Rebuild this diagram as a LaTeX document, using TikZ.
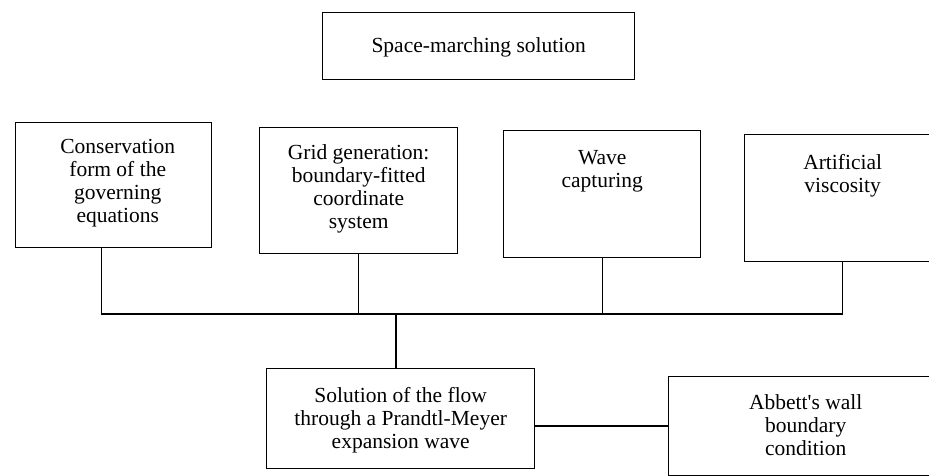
\documentclass[tikz,border=0pt]{standalone}
\usepackage{fontspec}
\setmainfont{Liberation Serif}
\begin{document}
\begin{tikzpicture}[x=1pt,y=-1pt,
  box/.style={draw, line width=1.4pt, inner sep=0pt, anchor=north west},
  txt/.style={align=center, inner sep=0pt, font=\fontsize{21.5}{23}\selectfont},
  wire/.style={line width=1.4pt}]
\clip (0,0) rectangle (929,476);
\fill[white] (0,0) rectangle (929,476);
% top box
\node[box, minimum width=312, minimum height=67] (top) at (322,12) {};
\node[txt] (topt) at ([yshift=-1]top.center) {Space-marching solution};
% four boxes
\node[box, minimum width=196, minimum height=125] (b1) at (15,122) {};
\node[txt] (b1t) at ([xshift=4,yshift=2]b1.center) {Conservation\\form of the\\governing\\equations};
\node[box, minimum width=198, minimum height=126] (b2) at (259,127) {};
\node[txt] (b2t) at ([yshift=2]b2.center) {Grid generation:\\boundary-fitted\\coordinate\\system};
\node[box, minimum width=197, minimum height=127] (b3) at (503,130) {};
\node[txt, anchor=north] (b3t) at ([yshift=-20]b3.north) {Wave\\capturing};
\node[box, minimum width=196, minimum height=127] (b4) at (744,134) {};
\node[txt, anchor=north] (b4t) at ([yshift=-20]b4.north) {Artificial\\viscosity};
% bottom boxes
\node[box, minimum width=268, minimum height=100] (sol) at (266,368) {};
\node[txt] (solt) at ([yshift=-2]sol.center) {Solution of the flow\\through a Prandtl-Meyer\\expansion wave};
\node[box, minimum width=274, minimum height=99] (abb) at (668,376) {};
\node[txt] (abbt) at ([yshift=1]abb.center) {Abbett\textquotesingle s wall\\boundary\\condition};
% connectors
\coordinate (bus) at (0,314);
\coordinate (p1) at ([xshift=-12]b1.south);
\draw[wire] (p1) |- (bus -| b4.south) -- (b4.south);
\draw[wire] (b2.south) -- (b2.south |- bus);
\draw[wire] (b3.south) -- (b3.south |- bus);
\coordinate (p5) at (396,314);
\draw[wire] (p5) -- (p5 |- sol.north);
\coordinate (hl) at (0,426);
\draw[wire] (sol.east |- hl) -- (abb.west |- hl);
\end{tikzpicture}
\end{document}
